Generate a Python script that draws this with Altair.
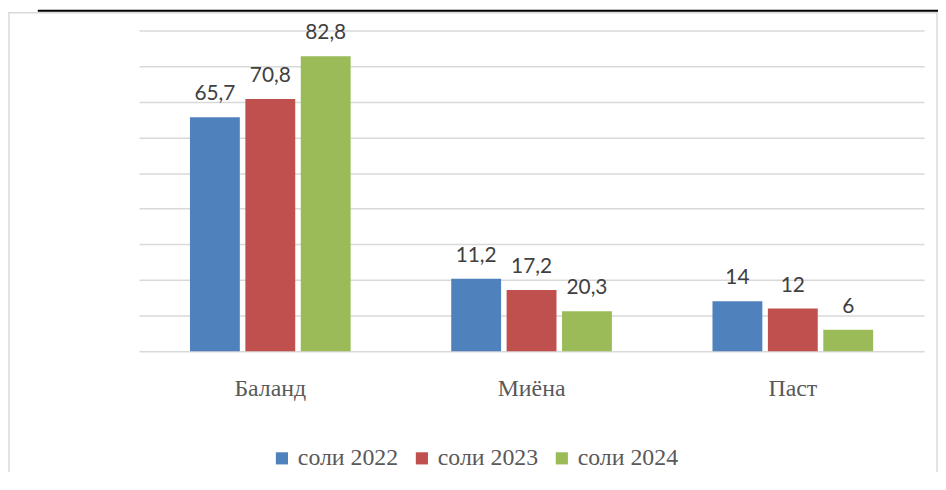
import altair as alt
import pandas as pd

categories = ["Баланд", "Миёна", "Паст"]
series = ["соли 2022", "соли 2023", "соли 2024"]
colors = ["#4F81BD", "#C0504D", "#9BBB59"]

# bar heights as drawn
values_2022 = [65.7, 20.3, 14]
values_2023 = [70.8, 17.2, 12]
values_2024 = [82.8, 11.2, 6]

# data labels as printed on the chart
labels_2022 = ["65,7", "11,2", "14"]
labels_2023 = ["70,8", "17,2", "12"]
labels_2024 = ["82,8", "20,3", "6"]

rows = []
for s, vals, labs in zip(series, [values_2022, values_2023, values_2024],
                         [labels_2022, labels_2023, labels_2024]):
    for c, v, l in zip(categories, vals, labs):
        rows.append({"cat": c, "series": s, "value": v, "label": l})
df = pd.DataFrame(rows)

W, H = 791, 323

x_enc = alt.X("cat:N", sort=categories, title=None,
              scale=alt.Scale(paddingInner=0.385, paddingOuter=0.195),
              axis=alt.Axis(labelAngle=0, ticks=False, domain=False,
                            labelFont="Liberation Serif", labelFontSize=24,
                            labelColor="#595959", labelBaseline="alphabetic",
                            labelPadding=45, grid=False))
xoff = alt.XOffset("series:N", sort=series,
                   scale=alt.Scale(paddingInner=0.1, paddingOuter=0))
y_enc = alt.Y("value:Q", title=None,
              scale=alt.Scale(domain=[0, 90], nice=False),
              axis=alt.Axis(values=list(range(0, 91, 10)), labels=False,
                            ticks=False, domain=False, grid=True,
                            gridColor="#D9D9D9", gridWidth=1.5))

base = alt.Chart(df)

bars = base.mark_bar().encode(
    x=x_enc, xOffset=xoff, y=y_enc,
    color=alt.Color("series:N", sort=series,
                    scale=alt.Scale(domain=series, range=colors),
                    legend=alt.Legend(title=None, orient="none",
                                      direction="horizontal",
                                      legendX=132, legendY=419,
                                      symbolType="square", symbolSize=150,
                                      symbolStrokeWidth=0, labelOffset=4,
                                      columnPadding=11, padding=0,
                                      labelFont="Liberation Serif",
                                      labelFontSize=24, labelColor="#595959")),
)

texts = base.mark_text(font="Lato", fontSize=21, color="#404040",
                       baseline="alphabetic", dy=-17).encode(
    x=x_enc, xOffset=xoff, y=y_enc, text="label:N",
)

deco = alt.Chart(pd.DataFrame({"a": [0]}))
frame = deco.mark_rect(fillOpacity=0, stroke="#D9D9D9", strokeWidth=1.5).encode(
    x=alt.value(-131), x2=alt.value(804), y=alt.value(-18), y2=alt.value(H + 140)
)
topline = deco.mark_rule(color="black", strokeWidth=2).encode(
    x=alt.value(-102), x2=alt.value(820), y=alt.value(-20)
)

chart = alt.layer(frame, topline, bars, texts).properties(
    width=W, height=H,
    autosize=alt.AutoSizeParams(type="none"),
    padding={"left": 132, "top": 21, "right": 14, "bottom": 120},
).configure_view(stroke=None)

chart.save("out.html", embed_options={"renderer": "svg", "actions": False})
